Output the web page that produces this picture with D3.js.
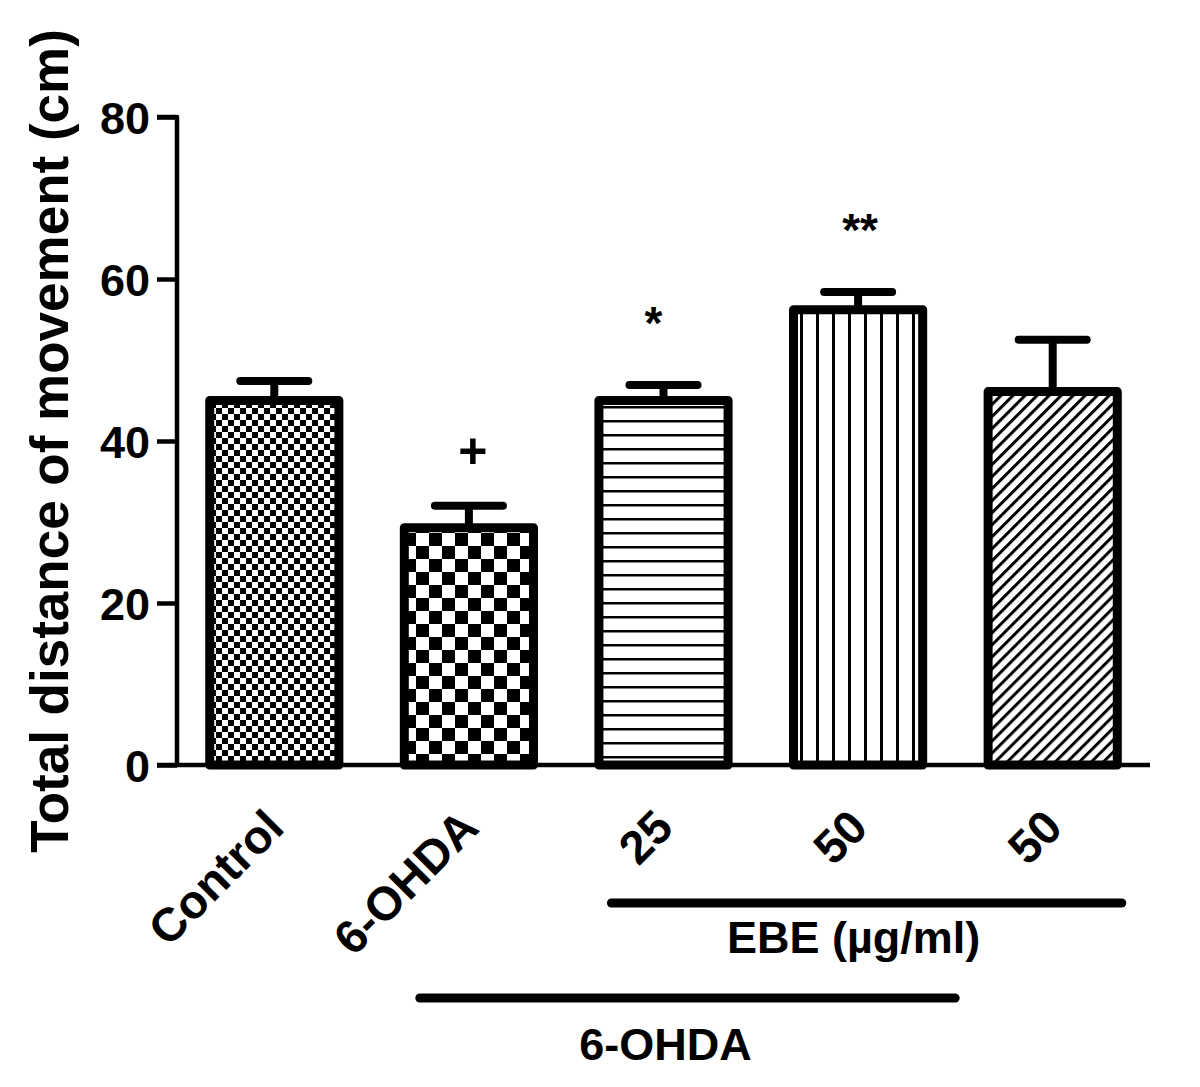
<!DOCTYPE html>
<html>
<head>
<meta charset="utf-8">
<script src="https://cdn.jsdelivr.net/npm/d3@7"></script>
<style>
  html, body { margin: 0; padding: 0; background: #fff; }
  svg { display: block; }
  text { font-family: "Liberation Sans", Arial, sans-serif; font-weight: bold; fill: #000; }
</style>
</head>
<body>
<svg id="chart" width="1200" height="1087"></svg>
<script>
// ---- data ----
const categories = ["Control", "6-OHDA", "25", "50", "50"];
const means = [45.0, 29.3, 45.0, 56.2, 46.1];
const sems = [2.4, 2.7, 1.9, 2.2, 6.4];
const marks = ["", "+", "*", "**", ""];
const patterns = ["checkFine", "checkCoarse", "hLines", "vLines", "diag"];
const yTicks = [0, 20, 40, 60, 80];
const yTitle = "Total distance of movement (cm)";
const groups = [
  { label: "EBE (\u00b5g/ml)", from: 2, to: 4, level: 0 },
  { label: "6-OHDA", from: 1, to: 3, level: 1 }
];

const svg = d3.select("#chart");
const x0 = 177, x1 = 1150, yTop = 117, yBot = 765;

const x = d3.scaleBand().domain(d3.range(categories.length)).range([x0, x1]).paddingInner(0.29).paddingOuter(0.145);
const y = d3.scaleLinear().domain([0, 80]).range([yBot, yTop]);

// ---- patterns ----
const defs = svg.append("defs");
function pat(id, w, h, transform) {
  const p = defs.append("pattern").attr("id", id).attr("patternUnits", "userSpaceOnUse")
    .attr("width", w).attr("height", h);
  if (transform) p.attr("patternTransform", transform);
  p.append("rect").attr("width", w).attr("height", h).attr("fill", "#fff");
  return p;
}
{
  const p = pat("checkFine", 12, 12);
  p.append("rect").attr("x", 0).attr("y", 0).attr("width", 6).attr("height", 6).attr("fill", "#000");
  p.append("rect").attr("x", 6).attr("y", 6).attr("width", 6).attr("height", 6).attr("fill", "#000");
}
{
  const p = pat("checkCoarse", 26, 26);
  p.append("rect").attr("x", 0).attr("y", 0).attr("width", 13).attr("height", 13).attr("fill", "#000");
  p.append("rect").attr("x", 13).attr("y", 13).attr("width", 13).attr("height", 13).attr("fill", "#000");
}
{
  const p = pat("hLines", 10, 14);
  p.append("rect").attr("x", 0).attr("y", 0).attr("width", 10).attr("height", 2.5).attr("fill", "#000");
}
{
  const p = pat("vLines", 16, 10);
  p.append("rect").attr("x", 0).attr("y", 0).attr("width", 3).attr("height", 10).attr("fill", "#000");
}
{
  const p = pat("diag", 8.5, 10, "rotate(45)");
  p.append("rect").attr("x", 0).attr("y", 0).attr("width", 3).attr("height", 10).attr("fill", "#000");
}

const bw = 9; // bar border width

// ---- bars ----
const bars = svg.append("g");
bars.selectAll("rect").data(means).join("rect")
  .attr("x", (d, i) => x(i) + bw / 2)
  .attr("y", d => y(d))
  .attr("width", x.bandwidth() - bw)
  .attr("height", d => y(0) - y(d))
  .attr("fill", (d, i) => `url(#${patterns[i]})`)
  .attr("stroke", "#000")
  .attr("stroke-width", bw)
  .attr("stroke-linejoin", "round");

// ---- error bars ----
const eb = svg.append("g").attr("stroke", "#000").attr("stroke-width", 8).attr("stroke-linecap", "round");
means.forEach((m, i) => {
  const cx = x(i) + x.bandwidth() / 2;
  eb.append("line").attr("x1", cx).attr("x2", cx).attr("y1", y(m)).attr("y2", y(m + sems[i])).attr("stroke-linecap", "butt");
  eb.append("line").attr("x1", cx - 34).attr("x2", cx + 34).attr("y1", y(m + sems[i])).attr("y2", y(m + sems[i]));
});

// ---- significance marks ----
const markDx = { "+": 4, "*": -10, "**": 2 };
svg.append("g").selectAll("text").data(marks).join("text")
  .attr("x", (d, i) => x(i) + x.bandwidth() / 2 + (markDx[d] || 0))
  .attr("y", (d, i) => y(means[i] + sems[i]) - (d === "+" ? 38 : 46))
  .attr("text-anchor", "middle")
  .attr("font-size", d => d === "+" ? 50 : 46)
  .text(d => d);

// ---- y axis ----
const yAxis = svg.append("g").attr("transform", `translate(${x0},0)`)
  .call(d3.axisLeft(y).tickValues(yTicks).tickSize(20).tickPadding(7).tickFormat(d3.format("d")));
yAxis.select(".domain").attr("d", `M-20,${yTop}H0V${yBot}`).attr("stroke-width", 4.5).attr("stroke-linejoin", "round");
yAxis.selectAll(".tick line").attr("stroke-width", 4.5);
yAxis.selectAll(".tick text").attr("font-size", 45).attr("dy", "0.36em")
  .style("font-family", '"Liberation Sans", Arial, sans-serif').style("font-weight", "bold");

// ---- x axis ----
const xAxis = svg.append("g").attr("transform", `translate(0,${yBot})`)
  .call(d3.axisBottom(x).tickSize(0).tickFormat(i => categories[i]));
xAxis.select(".domain").attr("d", `M${x0 - 20},0H${x1}`).attr("stroke-width", 4.5);
xAxis.selectAll(".tick text")
  .attr("font-size", 47)
  .attr("text-anchor", "end")
  .attr("transform", "translate(12,65) rotate(-45)")
  .attr("y", 0).attr("dy", 0)
  .style("font-family", '"Liberation Sans", Arial, sans-serif').style("font-weight", "bold");

// ---- y title ----
svg.append("text")
  .attr("transform", `translate(68,441) rotate(-90)`)
  .attr("text-anchor", "middle")
  .attr("font-size", 53)
  .text(yTitle);

// ---- group lines ----
const gLineY = [903, 998];
const g = svg.append("g");
groups.forEach(gr => {
  const ly = gLineY[gr.level];
  const xs = gr.level === 0 ? x(gr.from) + 17 : x(gr.from) + 20;
  const xe = gr.level === 0 ? x(gr.to) + x.bandwidth() : x(gr.to) + x.bandwidth() + 28;
  g.append("line").attr("x1", xs).attr("x2", xe).attr("y1", ly).attr("y2", ly)
    .attr("stroke", "#000").attr("stroke-width", 9).attr("stroke-linecap", "round");
  g.append("text").attr("x", (xs + xe) / 2 + (gr.level === 0 ? -13 : -22))
    .attr("y", gr.level === 0 ? ly + 50 : ly + 62)
    .attr("text-anchor", "middle").attr("font-size", 45).text(gr.label);
});
</script>
</body>
</html>
